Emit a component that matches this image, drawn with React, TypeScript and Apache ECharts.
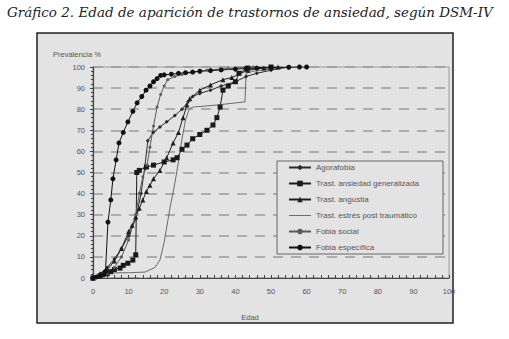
import React, { useEffect, useRef } from "react";
import * as echarts from "echarts";

const title = "Gráfico 2. Edad de aparición de trastornos de ansiedad, según DSM-IV";
const yAxisName = "Prevalencia %";
const xAxisName = "Edad";
const seriesNames = [
  "Agorafobia",
  "Trast. ansiedad generalizada",
  "Trast. angustia",
  "Trast. estrés post traumático",
  "Fobia social",
  "Fobia específica",
];

const agoraX = [0, 2, 4, 6, 8, 10, 12, 13.5, 14.5, 15.4, 16.9, 18.8, 20.7, 23, 25, 26.7, 28, 30, 33, 36, 40, 43, 46, 50, 55];
const agoraY = [0, 2, 5, 9, 14, 20, 28, 40, 52, 65, 69, 71.6, 74, 77, 80, 83.5, 86, 87.5, 89, 91, 93, 95.5, 97, 98.5, 100];

const tagX = [0, 2, 4, 5, 6, 7.6, 8.5, 9.8, 11.2, 12, 12.3, 13, 15, 17, 20, 22.5, 23.6, 25, 26.4, 28, 30, 32, 33.7, 34.8, 35.7, 36.5, 38, 40, 41, 43.5, 50];
const tagY = [0, 1, 2, 3, 4, 4.7, 6, 7, 8.5, 11, 50, 51, 52.6, 53.5, 55, 56, 57, 61, 63, 66, 68, 70, 72.5, 76, 81, 89, 91, 93, 97, 99.5, 100];

const angX = [0, 2, 4, 6, 8, 10, 11, 12, 13, 14, 15, 16, 17, 18.8, 20.7, 22.5, 24, 25.3, 26.4, 27.2, 30, 33, 36.5, 39, 43.5, 48, 52];
const angY = [0, 2, 4, 8, 14, 22, 25, 29, 33, 37, 41, 44, 47, 51, 57, 64, 69, 76, 82, 85, 89, 91.5, 94, 95, 98.5, 99.5, 100];

const teptX = [0, 4.2, 10, 14.6, 17.4, 18.8, 20, 21.6, 23, 24, 25, 26, 27, 28, 35, 42.7, 43, 45, 50, 55];
const teptY = [0, 2.4, 2.5, 2.8, 5, 8.5, 17, 33, 45, 55, 66, 75, 80, 81, 82, 83.5, 97, 98, 99, 100];

const socialX = [0, 2, 4, 6, 8, 10, 12, 13, 14, 15.2, 16, 17, 18, 19, 20, 21, 23, 25, 28, 32, 38, 45];
const socialY = [0, 1, 2, 5, 10, 18, 30, 40, 48, 53.5, 62, 72, 81, 87, 91, 94, 95.5, 96.5, 97.5, 98.5, 99.3, 100];

const especX = [0, 1, 2, 3, 3.5, 4.2, 5, 5.6, 6.5, 7.3, 8.5, 9.8, 11.2, 12.4, 13.7, 14.9, 16, 17, 18, 19, 20, 22, 24, 26, 28, 30, 33, 36, 40, 43, 46, 50, 55, 58, 60];
const especY = [0, 0.5, 1, 1.5, 3, 26.5, 37, 47, 56, 64, 69, 74, 79, 83, 86, 89, 91, 93, 94.5, 96, 96.3, 96.6, 97, 97.3, 97.6, 98, 98.3, 98.6, 99, 99.3, 99.5, 99.7, 99.9, 100, 100];

const xTicks = [0, 10, 20, 30, 40, 50, 60, 70, 80, 90, 100];

const zip = (xs: number[], ys: number[]) => xs.map((x, i) => [x, ys[i]]);

export default function App() {
  const ref = useRef<HTMLDivElement>(null);
  useEffect(() => {
    if (!ref.current) return;
    const chart = echarts.init(ref.current, null, { renderer: "svg" });
    const lineSeries = (
      name: string,
      data: number[][],
      symbol: string,
      size: number | number[],
      color: string,
      width: number,
      show = true
    ) => ({
      name,
      type: "line",
      data,
      symbol,
      symbolSize: size,
      showSymbol: show,
      lineStyle: { color, width },
      itemStyle: { color, borderWidth: 0 },
      z: 2,
    });
    chart.setOption({
      animation: false,
      graphic: [
        {
          type: "rect",
          shape: { x: 37, y: 33, width: 416, height: 290 },
          style: { fill: "#e3e3e3", stroke: "#222", lineWidth: 1.5 },
          z: -10,
        },
        {
          type: "text",
          x: 7,
          y: 12,
          style: {
            text: title,
            font: "italic 13.5px 'DejaVu Serif', serif",
            fill: "#222",
            verticalAlign: "middle",
          },
        },
        {
          type: "text",
          x: 53,
          y: 54,
          style: {
            text: yAxisName,
            font: "7.5px 'Liberation Sans', Arial, sans-serif",
            fill: "#555",
            verticalAlign: "middle",
          },
        },
        {
          type: "text",
          x: 250,
          y: 317,
          style: {
            text: xAxisName,
            font: "7.5px 'Liberation Sans', Arial, sans-serif",
            fill: "#555",
            align: "center",
            verticalAlign: "middle",
          },
        },
        {
          type: "rect",
          shape: { x: 277, y: 161, width: 166, height: 93 },
          style: { fill: "#e3e3e3", stroke: "#666", lineWidth: 1 },
          z: 3,
        },
      ],
      legend: {
        orient: "vertical",
        left: 288,
        top: 163,
        padding: 0,
        itemWidth: 22,
        itemHeight: 7,
        itemGap: 7,
        z: 5,
        textStyle: {
          fontSize: 8,
          lineHeight: 9,
          color: "#555",
          fontFamily: "'Liberation Sans', Arial, sans-serif",
        },
        data: seriesNames.map((n, i) =>
          i === 3 ? { name: n, icon: "path://M0,3 L22,3 L22,4 L0,4 Z" } : n
        ),
      },
      grid: {
        left: 93,
        right: 60,
        top: 67,
        bottom: 61,
        show: true,
        borderColor: "#9a9a9a",
        borderWidth: 1,
        backgroundColor: "transparent",
      },
      xAxis: {
        type: "value",
        min: 0,
        max: 100,
        interval: 10,
        axisLine: { lineStyle: { color: "#444", width: 1.2 } },
        axisTick: { show: true, length: 3, inside: true, lineStyle: { color: "#444" } },
        minorTick: { show: true, splitNumber: 5, length: 3, lineStyle: { color: "#444" } },
        splitLine: { show: false },
        axisLabel: {
          fontSize: 7.5,
          color: "#555",
          margin: 9,
          fontFamily: "'Liberation Sans', Arial, sans-serif",
          formatter: (v: number) => (xTicks.includes(v) ? String(v) : ""),
        },
      },
      yAxis: {
        type: "value",
        min: 0,
        max: 100,
        interval: 10,
        axisLine: { show: true, lineStyle: { color: "#444", width: 1.2 } },
        axisTick: { show: true, length: 3, lineStyle: { color: "#444" } },
        minorTick: { show: true, splitNumber: 5, length: 2, lineStyle: { color: "#444" } },
        splitLine: {
          show: true,
          lineStyle: { color: "#9a9a9a", width: 1.6, type: [10, 8] },
        },
        axisLabel: {
          fontSize: 7.5,
          color: "#555",
          margin: 8,
          fontFamily: "'Liberation Sans', Arial, sans-serif",
        },
      },
      series: [
        lineSeries(seriesNames[0], zip(agoraX, agoraY), "diamond", 4, "#2a2a2a", 1),
        lineSeries(seriesNames[1], zip(tagX, tagY), "rect", 5, "#1a1a1a", 1),
        lineSeries(seriesNames[2], zip(angX, angY), "triangle", 5, "#1f1f1f", 1),
        lineSeries(seriesNames[3], zip(teptX, teptY), "rect", [5, 1.5], "#6a6a6a", 1, false),
        lineSeries(seriesNames[4], zip(socialX, socialY), "circle", 3, "#5a5a5a", 1),
        lineSeries(seriesNames[5], zip(especX, especY), "circle", 5, "#111", 1),
      ],
    });
    return () => chart.dispose();
  }, []);
  return (
    <div
      ref={ref}
      style={{ position: "fixed", left: 0, top: 0, width: 509, height: 339, background: "#fff" }}
    />
  );
}
